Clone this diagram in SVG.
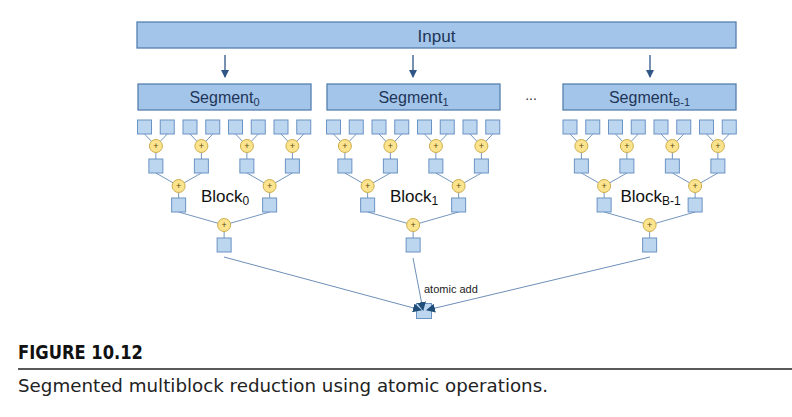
<svg xmlns="http://www.w3.org/2000/svg" width="792" height="417" viewBox="0 0 792 417">
<defs>
<style>
.box{fill:#A3C5E9;stroke:#5580AE;stroke-width:1.3}
.sq{fill:#BCD6F0;stroke:#6B93C4;stroke-width:1}
.ci{fill:#FCE38E;stroke:#CDAE4A;stroke-width:1}
.pl{font-family:"Liberation Sans",Arial,sans-serif;font-size:9px;fill:#5a4a10;text-anchor:middle}
.lbl{font-family:"Liberation Sans",Arial,sans-serif;fill:#1F3558;text-anchor:middle}
.blk{font-family:"Liberation Sans",Arial,sans-serif;font-size:17px;fill:#111}
.tl{fill:none;stroke:#7496BD;stroke-width:1}
.al{fill:none;stroke:#6E8FB8;stroke-width:1}
.arr{fill:none;stroke:#2F5686;stroke-width:1.3}
</style>
<marker id="ah" markerUnits="userSpaceOnUse" markerWidth="8" markerHeight="8" refX="7" refY="4" orient="auto">
<path d="M0 0L8 4L0 8z" fill="#2F5686"/>
</marker>
<marker id="ah2" markerUnits="userSpaceOnUse" markerWidth="9" markerHeight="9" refX="8" refY="4.5" orient="auto">
<path d="M0 0L9 4.5L0 9z" fill="#1F4E79"/>
</marker>
</defs>
<rect width="792" height="417" fill="#fff"/>

<g id="result"><rect class="sq" x="416.5" y="303.5" width="15" height="15"/></g>

<g id="connectors">
<line class="arr" x1="225" y1="55" x2="225" y2="77" marker-end="url(#ah)"/>
<line class="arr" x1="413" y1="55" x2="413" y2="77" marker-end="url(#ah)"/>
<line class="arr" x1="650" y1="55" x2="650" y2="77" marker-end="url(#ah)"/>
<g class="tl">
<path transform="translate(137.5,0)" d="M7 134L18.375 146M29.75 134L18.375 146M52.5 134L63.875 146M75.25 134L63.875 146M98 134L109.375 146M120.75 134L109.375 146M143.5 134L154.875 146M166.25 134L154.875 146M18.375 146V159M63.875 146V159M109.375 146V159M154.875 146V159M18.375 173L41.125 186M63.875 173L41.125 186M109.375 173L132.125 186M154.875 173L132.125 186M41.125 186V198M132.125 186V198M41.125 212L86.625 225M132.125 212L86.625 225M86.625 225V238"/>
<path transform="translate(326.5,0)" d="M7 134L18.375 146M29.75 134L18.375 146M52.5 134L63.875 146M75.25 134L63.875 146M98 134L109.375 146M120.75 134L109.375 146M143.5 134L154.875 146M166.25 134L154.875 146M18.375 146V159M63.875 146V159M109.375 146V159M154.875 146V159M18.375 173L41.125 186M63.875 173L41.125 186M109.375 173L132.125 186M154.875 173L132.125 186M41.125 186V198M132.125 186V198M41.125 212L86.625 225M132.125 212L86.625 225M86.625 225V238"/>
<path transform="translate(563,0)" d="M7 134L18.375 146M29.75 134L18.375 146M52.5 134L63.875 146M75.25 134L63.875 146M98 134L109.375 146M120.75 134L109.375 146M143.5 134L154.875 146M166.25 134L154.875 146M18.375 146V159M63.875 146V159M109.375 146V159M154.875 146V159M18.375 173L41.125 186M63.875 173L41.125 186M109.375 173L132.125 186M154.875 173L132.125 186M41.125 186V198M132.125 186V198M41.125 212L86.625 225M132.125 212L86.625 225M86.625 225V238"/>
</g>
<line class="al" x1="224" y1="257" x2="421" y2="310" marker-end="url(#ah2)"/>
<line class="al" x1="413" y1="258" x2="423" y2="310" marker-end="url(#ah2)"/>
<line class="al" x1="650" y1="257" x2="427" y2="310" marker-end="url(#ah2)"/>
</g>

<g id="input"><rect class="box" x="137" y="22" width="599" height="26"/><text class="lbl" x="436.5" y="42" font-size="17">Input</text></g>
<g id="segment0"><rect class="box" x="138" y="84" width="173" height="26"/><text class="lbl" x="224.5" y="103" font-size="16">Segment<tspan font-size="11" dy="3">0</tspan></text></g>
<g id="segment1"><rect class="box" x="327" y="84" width="173" height="26"/><text class="lbl" x="413.5" y="103" font-size="16">Segment<tspan font-size="11" dy="3">1</tspan></text></g>
<g id="segmentB-1"><rect class="box" x="563" y="84" width="173" height="26"/><text class="lbl" x="649.5" y="103" font-size="16">Segment<tspan font-size="11" dy="3">B-1</tspan></text></g>
<g id="dots"><text x="531" y="100" font-family="Liberation Sans,Arial,sans-serif" font-size="14" fill="#333" text-anchor="middle">...</text></g>

<g id="block0" transform="translate(137.5,0)">
<g id="b0-l0"><rect class="sq" x="0" y="120" width="14" height="14"/></g>
<g id="b0-l1"><rect class="sq" x="22.75" y="120" width="14" height="14"/></g>
<g id="b0-l2"><rect class="sq" x="45.5" y="120" width="14" height="14"/></g>
<g id="b0-l3"><rect class="sq" x="68.25" y="120" width="14" height="14"/></g>
<g id="b0-l4"><rect class="sq" x="91" y="120" width="14" height="14"/></g>
<g id="b0-l5"><rect class="sq" x="113.75" y="120" width="14" height="14"/></g>
<g id="b0-l6"><rect class="sq" x="136.5" y="120" width="14" height="14"/></g>
<g id="b0-l7"><rect class="sq" x="159.25" y="120" width="14" height="14"/></g>
<g id="b0-a1-0"><circle class="ci" cx="18.375" cy="146" r="6.5"/><text class="pl" x="18.375" y="149.2">+</text></g>
<g id="b0-a1-1"><circle class="ci" cx="63.875" cy="146" r="6.5"/><text class="pl" x="63.875" y="149.2">+</text></g>
<g id="b0-a1-2"><circle class="ci" cx="109.375" cy="146" r="6.5"/><text class="pl" x="109.375" y="149.2">+</text></g>
<g id="b0-a1-3"><circle class="ci" cx="154.875" cy="146" r="6.5"/><text class="pl" x="154.875" y="149.2">+</text></g>
<g id="b0-s1-0"><rect class="sq" x="11.375" y="159" width="14" height="14"/></g>
<g id="b0-s1-1"><rect class="sq" x="56.875" y="159" width="14" height="14"/></g>
<g id="b0-s1-2"><rect class="sq" x="102.375" y="159" width="14" height="14"/></g>
<g id="b0-s1-3"><rect class="sq" x="147.875" y="159" width="14" height="14"/></g>
<g id="b0-a2-0"><circle class="ci" cx="41.125" cy="186" r="6.5"/><text class="pl" x="41.125" y="189.2">+</text></g>
<g id="b0-a2-1"><circle class="ci" cx="132.125" cy="186" r="6.5"/><text class="pl" x="132.125" y="189.2">+</text></g>
<g id="b0-s2-0"><rect class="sq" x="34.125" y="198" width="14" height="14"/></g>
<g id="b0-s2-1"><rect class="sq" x="125.125" y="198" width="14" height="14"/></g>
<g id="b0-a3"><circle class="ci" cx="86.625" cy="225" r="6.5"/><text class="pl" x="86.625" y="228.2">+</text></g>
<g id="b0-s3"><rect class="sq" x="79.625" y="238" width="14" height="14"/></g>
<text class="blk" x="63.5" y="202">Block<tspan font-size="12" dy="3">0</tspan></text>
</g>

<g id="block1" transform="translate(326.5,0)">
<g id="b1-l0"><rect class="sq" x="0" y="120" width="14" height="14"/></g>
<g id="b1-l1"><rect class="sq" x="22.75" y="120" width="14" height="14"/></g>
<g id="b1-l2"><rect class="sq" x="45.5" y="120" width="14" height="14"/></g>
<g id="b1-l3"><rect class="sq" x="68.25" y="120" width="14" height="14"/></g>
<g id="b1-l4"><rect class="sq" x="91" y="120" width="14" height="14"/></g>
<g id="b1-l5"><rect class="sq" x="113.75" y="120" width="14" height="14"/></g>
<g id="b1-l6"><rect class="sq" x="136.5" y="120" width="14" height="14"/></g>
<g id="b1-l7"><rect class="sq" x="159.25" y="120" width="14" height="14"/></g>
<g id="b1-a1-0"><circle class="ci" cx="18.375" cy="146" r="6.5"/><text class="pl" x="18.375" y="149.2">+</text></g>
<g id="b1-a1-1"><circle class="ci" cx="63.875" cy="146" r="6.5"/><text class="pl" x="63.875" y="149.2">+</text></g>
<g id="b1-a1-2"><circle class="ci" cx="109.375" cy="146" r="6.5"/><text class="pl" x="109.375" y="149.2">+</text></g>
<g id="b1-a1-3"><circle class="ci" cx="154.875" cy="146" r="6.5"/><text class="pl" x="154.875" y="149.2">+</text></g>
<g id="b1-s1-0"><rect class="sq" x="11.375" y="159" width="14" height="14"/></g>
<g id="b1-s1-1"><rect class="sq" x="56.875" y="159" width="14" height="14"/></g>
<g id="b1-s1-2"><rect class="sq" x="102.375" y="159" width="14" height="14"/></g>
<g id="b1-s1-3"><rect class="sq" x="147.875" y="159" width="14" height="14"/></g>
<g id="b1-a2-0"><circle class="ci" cx="41.125" cy="186" r="6.5"/><text class="pl" x="41.125" y="189.2">+</text></g>
<g id="b1-a2-1"><circle class="ci" cx="132.125" cy="186" r="6.5"/><text class="pl" x="132.125" y="189.2">+</text></g>
<g id="b1-s2-0"><rect class="sq" x="34.125" y="198" width="14" height="14"/></g>
<g id="b1-s2-1"><rect class="sq" x="125.125" y="198" width="14" height="14"/></g>
<g id="b1-a3"><circle class="ci" cx="86.625" cy="225" r="6.5"/><text class="pl" x="86.625" y="228.2">+</text></g>
<g id="b1-s3"><rect class="sq" x="79.625" y="238" width="14" height="14"/></g>
<text class="blk" x="63.5" y="202">Block<tspan font-size="12" dy="3">1</tspan></text>
</g>

<g id="blockB-1" transform="translate(563,0)">
<g id="bB-l0"><rect class="sq" x="0" y="120" width="14" height="14"/></g>
<g id="bB-l1"><rect class="sq" x="22.75" y="120" width="14" height="14"/></g>
<g id="bB-l2"><rect class="sq" x="45.5" y="120" width="14" height="14"/></g>
<g id="bB-l3"><rect class="sq" x="68.25" y="120" width="14" height="14"/></g>
<g id="bB-l4"><rect class="sq" x="91" y="120" width="14" height="14"/></g>
<g id="bB-l5"><rect class="sq" x="113.75" y="120" width="14" height="14"/></g>
<g id="bB-l6"><rect class="sq" x="136.5" y="120" width="14" height="14"/></g>
<g id="bB-l7"><rect class="sq" x="159.25" y="120" width="14" height="14"/></g>
<g id="bB-a1-0"><circle class="ci" cx="18.375" cy="146" r="6.5"/><text class="pl" x="18.375" y="149.2">+</text></g>
<g id="bB-a1-1"><circle class="ci" cx="63.875" cy="146" r="6.5"/><text class="pl" x="63.875" y="149.2">+</text></g>
<g id="bB-a1-2"><circle class="ci" cx="109.375" cy="146" r="6.5"/><text class="pl" x="109.375" y="149.2">+</text></g>
<g id="bB-a1-3"><circle class="ci" cx="154.875" cy="146" r="6.5"/><text class="pl" x="154.875" y="149.2">+</text></g>
<g id="bB-s1-0"><rect class="sq" x="11.375" y="159" width="14" height="14"/></g>
<g id="bB-s1-1"><rect class="sq" x="56.875" y="159" width="14" height="14"/></g>
<g id="bB-s1-2"><rect class="sq" x="102.375" y="159" width="14" height="14"/></g>
<g id="bB-s1-3"><rect class="sq" x="147.875" y="159" width="14" height="14"/></g>
<g id="bB-a2-0"><circle class="ci" cx="41.125" cy="186" r="6.5"/><text class="pl" x="41.125" y="189.2">+</text></g>
<g id="bB-a2-1"><circle class="ci" cx="132.125" cy="186" r="6.5"/><text class="pl" x="132.125" y="189.2">+</text></g>
<g id="bB-s2-0"><rect class="sq" x="34.125" y="198" width="14" height="14"/></g>
<g id="bB-s2-1"><rect class="sq" x="125.125" y="198" width="14" height="14"/></g>
<g id="bB-a3"><circle class="ci" cx="86.625" cy="225" r="6.5"/><text class="pl" x="86.625" y="228.2">+</text></g>
<g id="bB-s3"><rect class="sq" x="79.625" y="238" width="14" height="14"/></g>
<text class="blk" x="57.5" y="202">Block<tspan font-size="12" dy="3">B-1</tspan></text>
</g>

<text x="424" y="293" font-family="Liberation Sans,Arial,sans-serif" font-size="11" fill="#222">atomic add</text>

<g id="caption">
<text x="18" y="359" font-family="'Liberation Sans Narrow','DejaVu Sans Condensed','Liberation Sans',sans-serif" font-weight="bold" font-size="19" fill="#111" textLength="125" lengthAdjust="spacingAndGlyphs">FIGURE 10.12</text>
<line x1="18" y1="369" x2="792" y2="369" stroke="#222" stroke-width="1.5"/>
<text x="18" y="392" font-family="'Liberation Sans Narrow','DejaVu Sans Condensed','Liberation Sans',sans-serif" font-size="18" fill="#222" textLength="530" lengthAdjust="spacingAndGlyphs">Segmented multiblock reduction using atomic operations.</text>
</g>
</svg>
